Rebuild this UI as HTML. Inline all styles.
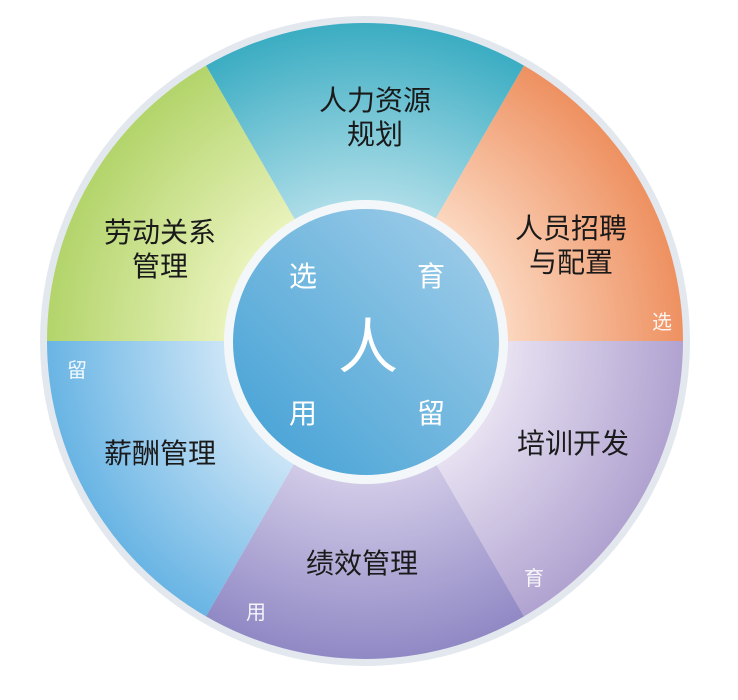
<!DOCTYPE html>
<html><head><meta charset="utf-8"><style>
html,body{margin:0;padding:0;background:#fff;}
svg{display:block;}
text{font-family:"Liberation Sans","Noto Sans CJK SC",sans-serif;text-anchor:middle;}
</style></head><body>
<svg width="738" height="700" viewBox="0 0 738 700" xmlns="http://www.w3.org/2000/svg">
<defs>
<radialGradient id="gT" gradientUnits="userSpaceOnUse" cx="365" cy="341" r="320"><stop offset="0.4" stop-color="#b4e0ea"/><stop offset="1" stop-color="#3aacc2"/></radialGradient>
<radialGradient id="gO" gradientUnits="userSpaceOnUse" cx="365" cy="341" r="320"><stop offset="0.4" stop-color="#fcdcc6"/><stop offset="1" stop-color="#ee9060"/></radialGradient>
<radialGradient id="gP" gradientUnits="userSpaceOnUse" cx="365" cy="341" r="320"><stop offset="0.4" stop-color="#ebe6f4"/><stop offset="1" stop-color="#b0a2d0"/></radialGradient>
<radialGradient id="gB" gradientUnits="userSpaceOnUse" cx="365" cy="341" r="320"><stop offset="0.4" stop-color="#d6d0ea"/><stop offset="1" stop-color="#9088c4"/></radialGradient>
<radialGradient id="gL" gradientUnits="userSpaceOnUse" cx="365" cy="341" r="320"><stop offset="0.4" stop-color="#d2e8f8"/><stop offset="1" stop-color="#68b4e4"/></radialGradient>
<radialGradient id="gG" gradientUnits="userSpaceOnUse" cx="365" cy="341" r="320"><stop offset="0.4" stop-color="#ecf4c0"/><stop offset="1" stop-color="#b2d46a"/></radialGradient>
<linearGradient id="gC" x1="0" y1="1" x2="1" y2="0"><stop offset="0" stop-color="#3f9fd4"/><stop offset="1" stop-color="#a6d0ea"/></linearGradient>
</defs>
<circle cx="365" cy="341" r="325" fill="#e3e8ef"/>
<path d="M365 341 L206 65.6 A318 318 0 0 1 524 65.6 Z" fill="url(#gT)"/>
<path d="M365 341 L524 65.6 A318 318 0 0 1 683 341 Z" fill="url(#gO)"/>
<path d="M365 341 L683 341 A318 318 0 0 1 524 616.4 Z" fill="url(#gP)"/>
<path d="M365 341 L524 616.4 A318 318 0 0 1 206 616.4 Z" fill="url(#gB)"/>
<path d="M365 341 L206 616.4 A318 318 0 0 1 47 341 Z" fill="url(#gL)"/>
<path d="M365 341 L47 341 A318 318 0 0 1 206 65.6 Z" fill="url(#gG)"/>
<circle cx="366" cy="342" r="142" fill="#f4f7fa"/>
<circle cx="366" cy="342" r="133" fill="url(#gC)"/>
<g fill="#1a1a1a" font-size="28">
<text x="375" y="110">人力资源</text>
<text x="375" y="144">规划</text>
<text x="571" y="238">人员招聘</text>
<text x="571" y="272">与配置</text>
<text x="573" y="453">培训开发</text>
<text x="362" y="573">绩效管理</text>
<text x="160" y="463">薪酬管理</text>
<text x="160" y="242">劳动关系</text>
<text x="160" y="276">管理</text>
</g>
<g fill="#fff" fill-opacity="0.9" font-size="20">
<text x="662" y="329">选</text>
<text x="534" y="585">育</text>
<text x="256" y="619">用</text>
<text x="77" y="377">留</text>
</g>
<g fill="#fff" font-size="28">
<text x="303" y="286">选</text>
<text x="431" y="286">育</text>
<text x="303" y="423">用</text>
<text x="431" y="423">留</text>
<text x="368" y="368" font-size="60">人</text>
</g>
</svg>
</body></html>
